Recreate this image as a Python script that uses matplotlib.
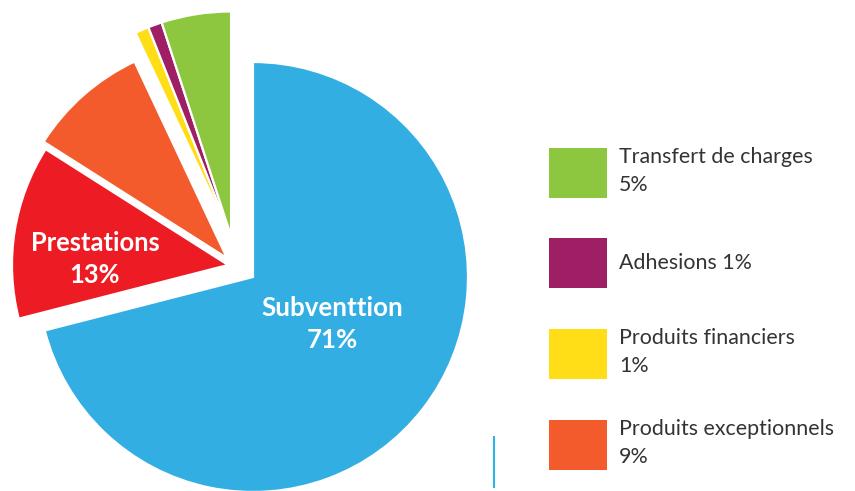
import matplotlib
matplotlib.use("Agg")
import matplotlib.pyplot as plt
from matplotlib.patches import Patch

# 데이터 (시계 방향, 12시부터)
labels = ["Subventtion", "Prestations", "Produits exceptionnels",
          "Produits financiers", "Adhesions", "Transfert de charges"]
values = [71, 13, 9, 1, 1, 5]
colors = ["#33aee3", "#ed1c24", "#f35b2d", "#ffde17", "#9e1f63", "#8dc63f"]

# 조각별 이동량 / 반지름 (스타일)
offsets = [(0, 0), (-0.116, 0.056), (-0.121, 0.088),
           (-0.102, 0.19), (-0.102, 0.19), (-0.102, 0.19)]
radii = [1.0, 1.005, 1.01, 1.045, 1.045, 1.045]

legend_order = [5, 4, 3, 2]
legend_labels = ["Transfert de charges\n5%", "Adhesions 1%",
                 "Produits financiers\n1%", "Produits exceptionnels\n9%"]

W, H = 855, 491
CX, CY, R = 253, 277, 215  # 파란 조각 중심 (px)

fig = plt.figure(figsize=(W / 100, H / 100), dpi=100)
ax = fig.add_axes([0, 0, 1, 1])

wedges, _ = ax.pie(values, colors=colors, startangle=90, counterclock=False,
                   wedgeprops=dict(edgecolor="white", linewidth=1.6))
for w, off, r in zip(wedges, offsets, radii):
    w.set_center(off)
    w.set_radius(r)

ax.set_xlim(-CX / R, (W - CX) / R)
ax.set_ylim(-(H - CY) / R, CY / R)
ax.set_aspect("equal")
ax.axis("off")

ax.text(0.367, -0.22, f"{labels[0]}\n{values[0]}%", color="white",
        fontsize=18.6, fontweight="bold", family="Lato",
        ha="center", va="center", linespacing=1.38)
ax.text(-0.735, 0.085, f"{labels[1]}\n{values[1]}%", color="white",
        fontsize=18.4, fontweight="bold", family="Lato",
        ha="center", va="center", linespacing=1.38)

handles = [Patch(facecolor=colors[i]) for i in legend_order]
leg = fig.legend(handles, legend_labels, loc="upper left",
                 bbox_to_anchor=(549 / W, 1 - 147 / H),
                 frameon=False, prop=dict(family="Lato", size=15.4),
                 handlelength=2.72, handleheight=3.2, handletextpad=0.55,
                 labelspacing=1.89, borderpad=0, borderaxespad=0,
                 labelcolor="#333333")
for t in leg.get_texts():
    t.set_linespacing(1.5)

# 오른쪽 아래 얇은 파란 선
ax.plot([(494 - CX) / R] * 2, [(CY - 437) / R, (CY - 487) / R],
        color="#29b5e8", linewidth=1.5)

fig.savefig("out.png", dpi=100)
